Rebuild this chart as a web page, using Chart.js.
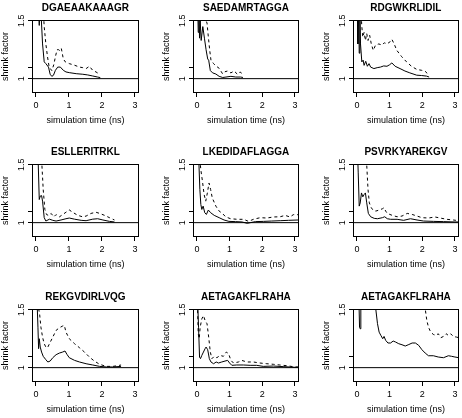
<!DOCTYPE html>
<html>
<head>
<meta charset="utf-8">
<style>
  body { margin: 0; background: #fff; }
  #wrap { position: relative; width: 462px; height: 418px; overflow: hidden; background: #fff; }
  #wrap canvas { position: absolute; }
</style>
<script src="https://cdn.jsdelivr.net/npm/chart.js@4.4.1/dist/chart.umd.min.js"></script>
</head>
<body>
<div id="wrap"></div>
<script>
// panel titles (peptides)
const titles = ['DGAEAAKAAAGR', 'SAEDAMRTAGGA', 'RDGWKRLIDIL',
                'ESLLERITRKL', 'LKEDIDAFLAGGA', 'PSVRKYAREKGV',
                'REKGVDIRLVQG', 'AETAGAKFLRAHA', 'AETAGAKFLRAHA'];

const xTicks = [0, 1, 2, 3];
const yTicks = [1, 1.1, 1.5];
const yTickLabels = ['1', '', '1.5'];

// shrink factor vs simulation time (ns), solid and dashed curve per panel
const p1SolidTime = [0.08, 0.1, 0.13, 0.2, 0.25, 0.3, 0.38, 0.43, 0.48, 0.53, 0.59, 0.66, 0.74, 0.83, 0.91, 1.01, 1.22, 1.42, 1.57, 1.72, 1.87, 1.95];
const p1Solid = [1.6, 1.46, 1.7, 1.30, 1.145, 1.13, 1.10, 1.038, 1.02, 1.029, 1.072, 1.10, 1.10, 1.072, 1.058, 1.052, 1.043, 1.038, 1.032, 1.023, 1.014, 1.009];
const p1DashTime = [0.22, 0.25, 0.3, 0.35, 0.4, 0.48, 0.54, 0.59, 0.64, 0.69, 0.73, 0.77, 0.83, 0.89, 1.01, 1.17, 1.32, 1.42, 1.52, 1.62, 1.72, 1.82, 1.93];
const p1Dash = [1.6, 1.45, 1.30, 1.19, 1.10, 1.07, 1.12, 1.19, 1.25, 1.25, 1.24, 1.26, 1.17, 1.145, 1.13, 1.116, 1.10, 1.095, 1.087, 1.107, 1.072, 1.058, 1.038];

const p2SolidTime = [0.02, 0.04, 0.06, 0.08, 0.1, 0.13, 0.18, 0.23, 0.28, 0.33, 0.36, 0.41, 0.48, 0.58, 0.68, 0.79, 0.89, 1.04, 1.19, 1.34, 1.41];
const p2Solid = [1.7, 1.4, 1.6, 1.35, 1.5, 1.33, 1.45, 1.35, 1.25, 1.17, 1.16, 1.07, 1.05, 1.04, 1.02, 1.01, 1.014, 1.02, 1.014, 1.014, 1.01];
const p2DashTime = [0.25, 0.28, 0.31, 0.35, 0.39, 0.43, 0.51, 0.58, 0.68, 0.79, 0.86, 0.94, 1.04, 1.14, 1.24, 1.32, 1.41];
const p2Dash = [1.7, 1.5, 1.48, 1.36, 1.25, 1.16, 1.13, 1.11, 1.09, 1.04, 1.06, 1.066, 1.05, 1.066, 1.038, 1.058, 1.038];

const p3SolidTime = [0.01, 0.03, 0.05, 0.07, 0.09, 0.11, 0.15, 0.19, 0.22, 0.27, 0.32, 0.37, 0.42, 0.52, 0.62, 0.72, 0.82, 0.92, 1.0, 1.07, 1.17, 1.32, 1.47, 1.62, 1.83, 1.98, 2.13, 2.21];
const p3Solid = [1.7, 1.3, 1.7, 1.22, 1.6, 1.3, 1.145, 1.16, 1.115, 1.15, 1.107, 1.13, 1.10, 1.087, 1.095, 1.10, 1.11, 1.107, 1.12, 1.136, 1.107, 1.087, 1.066, 1.05, 1.03, 1.027, 1.022, 1.014];
const p3DashTime = [0.12, 0.15, 0.18, 0.22, 0.26, 0.3, 0.34, 0.39, 0.44, 0.5, 0.57, 0.67, 0.77, 0.84, 0.92, 1.02, 1.07, 1.14, 1.22, 1.37, 1.52, 1.67, 1.83, 1.98, 2.08, 2.18];
const p3Dash = [1.6, 1.45, 1.36, 1.40, 1.33, 1.39, 1.33, 1.375, 1.30, 1.245, 1.29, 1.30, 1.29, 1.31, 1.30, 1.32, 1.34, 1.30, 1.245, 1.19, 1.145, 1.107, 1.08, 1.072, 1.066, 1.038];

const p4SolidTime = [0.03, 0.07, 0.1, 0.13, 0.17, 0.2, 0.25, 0.3, 0.41, 0.51, 0.61, 0.76, 0.91, 1.01, 1.17, 1.37, 1.52, 1.72, 1.87, 2.03, 2.23, 2.38];
const p4Solid = [1.6, 1.5, 1.20, 1.23, 1.234, 1.186, 1.043, 1.014, 1.03, 1.02, 1.014, 1.023, 1.034, 1.04, 1.03, 1.02, 1.017, 1.03, 1.034, 1.023, 1.011, 1.006];
const p4DashTime = [0.16, 0.18, 0.22, 0.27, 0.32, 0.38, 0.46, 0.54, 0.61, 0.71, 0.81, 0.91, 1.01, 1.11, 1.27, 1.42, 1.52, 1.67, 1.82, 1.93, 2.08, 2.23, 2.38];
const p4Dash = [1.7, 1.5, 1.286, 1.114, 1.07, 1.063, 1.08, 1.05, 1.07, 1.05, 1.07, 1.09, 1.11, 1.09, 1.063, 1.05, 1.057, 1.08, 1.09, 1.08, 1.063, 1.043, 1.023];

const p5SolidTime = [0.05, 0.09, 0.12, 0.15, 0.19, 0.24, 0.29, 0.35, 0.42, 0.53, 0.68, 0.83, 0.98, 1.18, 1.38, 1.54, 1.64, 1.79, 2.04, 2.29, 2.55, 2.8, 3.1];
const p5Solid = [1.6, 1.286, 1.157, 1.114, 1.143, 1.086, 1.071, 1.109, 1.086, 1.063, 1.043, 1.023, 1.011, 1.009, 1.006, 0.994, 1.0, 1.009, 1.011, 1.014, 1.017, 1.02, 1.023];
const p5DashTime = [0.07, 0.12, 0.17, 0.22, 0.27, 0.32, 0.37, 0.42, 0.47, 0.58, 0.68, 0.78, 0.88, 1.03, 1.23, 1.43, 1.58, 1.74, 1.94, 2.14, 2.34, 2.55, 2.7, 2.85, 2.95, 3.1];
const p5Dash = [1.6, 1.457, 1.357, 1.243, 1.186, 1.257, 1.343, 1.286, 1.214, 1.143, 1.10, 1.08, 1.05, 1.034, 1.029, 1.029, 1.011, 1.03, 1.043, 1.04, 1.049, 1.051, 1.063, 1.049, 1.069, 1.069];

const p6SolidTime = [0.02, 0.04, 0.07, 0.1, 0.14, 0.18, 0.22, 0.26, 0.3, 0.35, 0.42, 0.53, 0.63, 0.78, 0.85, 0.93, 1.03, 1.23, 1.43, 1.64, 1.84, 2.04, 2.34, 2.65, 3.0, 3.12];
const p6Solid = [1.6, 1.43, 1.143, 1.17, 1.257, 1.223, 1.243, 1.257, 1.171, 1.08, 1.051, 1.037, 1.034, 1.043, 1.051, 1.034, 1.029, 1.029, 1.02, 1.034, 1.023, 1.014, 1.011, 1.009, 1.006, 1.006];
const p6DashTime = [0.28, 0.3, 0.34, 0.38, 0.44, 0.5, 0.58, 0.68, 0.78, 0.83, 0.88, 0.93, 1.08, 1.23, 1.38, 1.54, 1.69, 1.84, 1.99, 2.19, 2.39, 2.55, 2.75, 2.95, 3.03];
const p6Dash = [1.7, 1.5, 1.286, 1.171, 1.129, 1.106, 1.10, 1.109, 1.12, 1.129, 1.10, 1.08, 1.063, 1.051, 1.057, 1.08, 1.071, 1.057, 1.043, 1.04, 1.049, 1.04, 1.029, 1.023, 1.02];

const p7SolidTime = [0.03, 0.06, 0.08, 0.1, 0.13, 0.17, 0.22, 0.3, 0.36, 0.43, 0.51, 0.61, 0.71, 0.81, 0.88, 0.94, 1.01, 1.17, 1.32, 1.52, 1.72, 1.93, 2.13, 2.33, 2.58];
const p7Solid = [1.6, 1.35, 1.164, 1.25, 1.178, 1.135, 1.098, 1.069, 1.049, 1.057, 1.086, 1.112, 1.126, 1.135, 1.144, 1.115, 1.086, 1.063, 1.049, 1.034, 1.023, 1.011, 1.006, 1.006, 1.011];
const p7DashTime = [0.08, 0.11, 0.15, 0.2, 0.25, 0.3, 0.35, 0.41, 0.51, 0.61, 0.71, 0.81, 0.86, 0.91, 1.01, 1.17, 1.32, 1.47, 1.62, 1.77, 1.93, 2.13, 2.33, 2.48, 2.58];
const p7Dash = [1.51, 1.466, 1.35, 1.264, 1.207, 1.178, 1.172, 1.207, 1.264, 1.322, 1.345, 1.36, 1.365, 1.307, 1.25, 1.207, 1.172, 1.135, 1.092, 1.057, 1.029, 1.011, 1.011, 1.017, 1.023];

const p8SolidTime = [0.02, 0.05, 0.08, 0.11, 0.15, 0.2, 0.25, 0.28, 0.33, 0.38, 0.43, 0.51, 0.59, 0.66, 0.76, 0.86, 0.94, 1.0, 1.07, 1.22, 1.42, 1.63, 1.83, 2.03, 2.34, 2.64, 3.0, 3.12];
const p8Solid = [1.6, 1.35, 1.092, 1.078, 1.106, 1.135, 1.164, 1.178, 1.155, 1.078, 1.049, 1.034, 1.049, 1.04, 1.049, 1.057, 1.063, 1.04, 1.02, 1.023, 1.023, 1.02, 1.02, 1.011, 1.014, 1.009, 1.003, 1.003];
const p8DashTime = [0.01, 0.04, 0.07, 0.1, 0.15, 0.2, 0.25, 0.31, 0.36, 0.41, 0.46, 0.53, 0.61, 0.71, 0.81, 0.9, 0.97, 1.04, 1.12, 1.27, 1.37, 1.53, 1.73, 1.93, 2.14, 2.34, 2.54, 2.75, 3.0, 3.12];
const p8Dash = [1.6, 1.293, 1.25, 1.35, 1.422, 1.45, 1.408, 1.379, 1.264, 1.135, 1.078, 1.098, 1.086, 1.106, 1.098, 1.135, 1.121, 1.063, 1.04, 1.049, 1.063, 1.049, 1.049, 1.04, 1.034, 1.029, 1.023, 1.017, 1.006, 1.006];

const p9SolidTime = [0.06, 0.08, 0.1, 0.12, 0.14, 0.3, 0.5, 0.58, 0.63, 0.68, 0.73, 0.79, 0.83, 0.88, 0.95, 1.03, 1.11, 1.18, 1.28, 1.38, 1.48, 1.59, 1.69, 1.79, 1.89, 1.99, 2.09, 2.19, 2.34, 2.49, 2.65, 2.8, 2.9, 3.0, 3.12];
const p9Solid = [1.6, 1.35, 1.336, 1.5, 1.6, 1.7, 1.7, 1.5, 1.38, 1.307, 1.28, 1.25, 1.27, 1.236, 1.213, 1.213, 1.23, 1.222, 1.207, 1.198, 1.187, 1.20, 1.213, 1.213, 1.193, 1.155, 1.126, 1.103, 1.103, 1.092, 1.086, 1.103, 1.098, 1.092, 1.086];
const p9DashTime = [2.05, 2.09, 2.14, 2.19, 2.26, 2.34, 2.42, 2.49, 2.57, 2.65, 2.73, 2.8, 2.87, 2.95, 3.05, 3.12];
const p9Dash = [1.7, 1.51, 1.408, 1.35, 1.307, 1.287, 1.279, 1.293, 1.259, 1.27, 1.293, 1.279, 1.293, 1.27, 1.264, 1.259];

const panels = [
    [p1SolidTime, p1Solid, p1DashTime, p1Dash],
    [p2SolidTime, p2Solid, p2DashTime, p2Dash],
    [p3SolidTime, p3Solid, p3DashTime, p3Dash],
    [p4SolidTime, p4Solid, p4DashTime, p4Dash],
    [p5SolidTime, p5Solid, p5DashTime, p5Dash],
    [p6SolidTime, p6Solid, p6DashTime, p6Dash],
    [p7SolidTime, p7Solid, p7DashTime, p7Dash],
    [p8SolidTime, p8Solid, p8DashTime, p8Dash],
    [p9SolidTime, p9Solid, p9DashTime, p9Dash]
];

// plot box placement on the page
const colLeft = [32, 193, 353];
const boxW = [107, 106, 106];
const rowTop = [20, 164, 309];
const boxH = 73;

Chart.defaults.font.family = '"Liberation Sans", Arial, Helvetica, sans-serif';
Chart.defaults.color = '#000';
Chart.defaults.animation = false;

// R-style box round the plot region
const boxPlugin = {
    id: 'plotBox',
    afterDatasetsDraw(chart) {
        const a = chart.chartArea;
        const ctx = chart.ctx;
        ctx.save();
        ctx.strokeStyle = '#000';
        ctx.lineWidth = 1;
        ctx.strokeRect(Math.round(a.left) + 0.5, Math.round(a.top) + 0.5,
            Math.round(a.right - a.left) - 1, Math.round(a.bottom - a.top) - 1);
        ctx.restore();
    }
};

function toPoints(times, vals) {
    return times.map((t, i) => ({ x: t, y: vals[i] }));
}

const axisGrid = { drawOnChartArea: false, drawTicks: true, tickLength: 4, color: '#000', lineWidth: 1 };
const wrap = document.getElementById('wrap');

panels.forEach((p, i) => {
    const col = i % 3;
    const row = Math.floor(i / 3);
    const w = 32 + boxW[col] + 2;
    const h = 20 + boxH + 35;

    const canvas = document.createElement('canvas');
    canvas.width = w;
    canvas.height = h;
    canvas.style.width = w + 'px';
    canvas.style.height = h + 'px';
    canvas.style.left = (colLeft[col] - 32) + 'px';
    canvas.style.top = (rowTop[row] - 20) + 'px';
    wrap.appendChild(canvas);

    new Chart(canvas, {
        type: 'line',
        data: {
            datasets: [{
                data: [{ x: -1, y: 1 }, { x: 4, y: 1 }],
                borderColor: '#000',
                borderWidth: 1,
                pointRadius: 0
            }, {
                data: toPoints(p[2], p[3]),
                borderColor: '#000',
                borderWidth: 1,
                borderDash: [3, 3],
                pointRadius: 0,
                tension: 0
            }, {
                data: toPoints(p[0], p[1]),
                borderColor: '#000',
                borderWidth: 1,
                pointRadius: 0,
                tension: 0
            }]
        },
        options: {
            responsive: false,
            devicePixelRatio: 1,
            layout: { padding: { left: 0, right: 2, top: 0, bottom: 0 } },
            plugins: {
                legend: { display: false },
                tooltip: { enabled: false },
                title: {
                    display: true,
                    text: titles[i],
                    fullSize: false,
                    font: { size: 10, weight: 'bold' },
                    color: '#000',
                    padding: { top: 2, bottom: 6 }
                }
            },
            scales: {
                x: {
                    type: 'linear',
                    min: -0.12,
                    max: 3.12,
                    afterBuildTicks: s => { s.ticks = xTicks.map(v => ({ value: v })); },
                    afterFit: s => { s.height = 35; },
                    grid: axisGrid,
                    border: { display: false },
                    ticks: { font: { size: 9 }, padding: 3.5, maxRotation: 0, autoSkip: false },
                    title: { display: true, text: 'simulation time (ns)', font: { size: 9 }, padding: { top: 0, bottom: 2 } }
                },
                y: {
                    min: 0.876,
                    max: 1.507,
                    afterBuildTicks: s => { s.ticks = yTicks.map(v => ({ value: v })); },
                    afterFit: s => { s.width = 32; },
                    grid: axisGrid,
                    border: { display: false },
                    ticks: {
                        font: { size: 9 }, padding: 0, minRotation: 90, maxRotation: 90,
                        crossAlign: 'center', autoSkip: false,
                        callback: (v, idx) => yTickLabels[idx]
                    },
                    title: { display: true, text: 'shrink factor', font: { size: 9 }, padding: { top: 0, bottom: 0 } }
                }
            }
        },
        plugins: [boxPlugin]
    });
});
</script>
</body>
</html>
